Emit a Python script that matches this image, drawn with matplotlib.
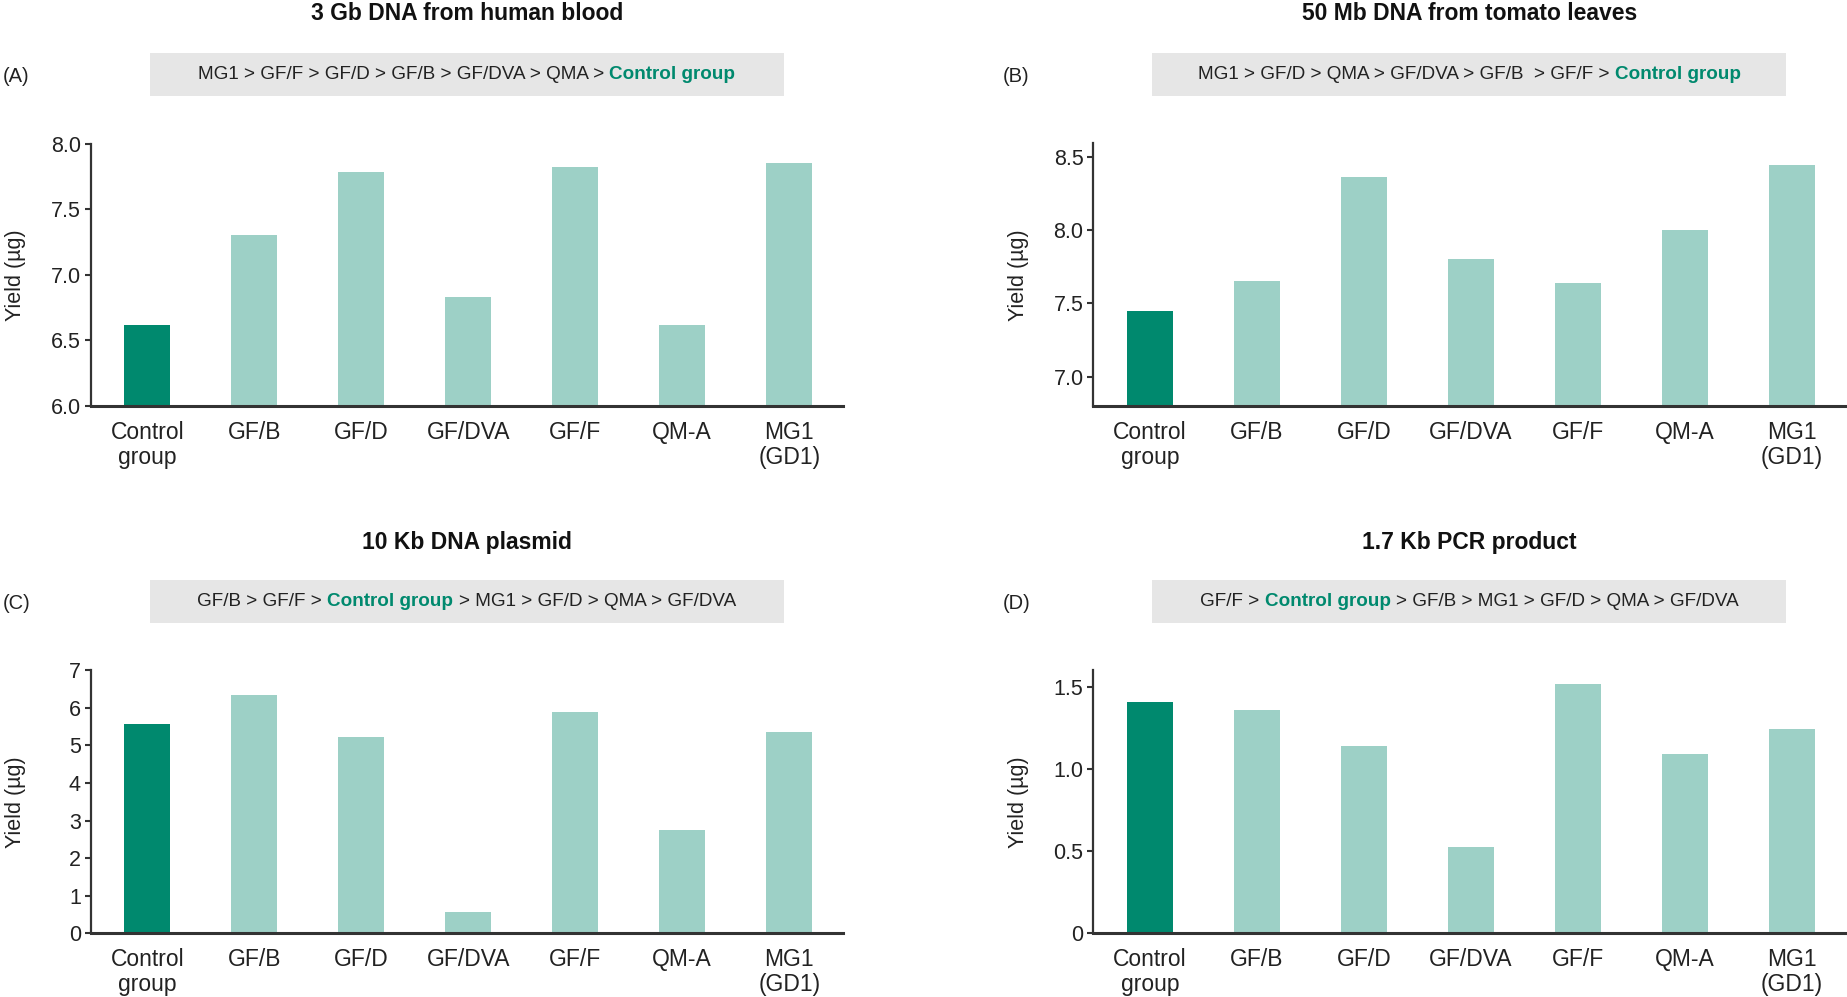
import numpy as np
import matplotlib.pyplot as plt
from matplotlib.patches import Rectangle

plt.rcParams['font.family'] = ['Liberation Sans', 'DejaVu Sans']

# kategorie
kategorie = ['Control\ngroup', 'GF/B', 'GF/D', 'GF/DVA', 'GF/F', 'QM-A', 'MG1\n(GD1)']

# wydajnosc (ug)
blood = [6.62, 7.30, 7.78, 6.83, 7.82, 6.62, 7.85]
tomato = [7.45, 7.65, 8.36, 7.80, 7.64, 8.00, 8.44]
plasmid = [5.56, 6.35, 5.22, 0.56, 5.90, 2.75, 5.35]
pcr = [1.405, 1.356, 1.142, 0.526, 1.516, 1.093, 1.245]

tytuly = ['3 Gb DNA from human blood', '50 Mb DNA from tomato leaves',
          '10 Kb DNA plasmid', '1.7 Kb PCR product']
litery = ['(A)', '(B)', '(C)', '(D)']

# ranking w szarej ramce: (tekst, czy wyroznic)
ranking_a = [('MG1 > GF/F > GF/D > GF/B > GF/DVA > QMA > ', False), ('Control group', True)]
ranking_b = [('MG1 > GF/D > QMA > GF/DVA > GF/B  > GF/F > ', False), ('Control group', True)]
ranking_c = [('GF/B > GF/F > ', False), ('Control group', True), (' > MG1 > GF/D > QMA > GF/DVA', False)]
ranking_d = [('GF/F > ', False), ('Control group', True), (' > GF/B > MG1 > GF/D > QMA > GF/DVA', False)]

ylimy = [(6.0, 8.0), (6.8, 8.59), (0, 7.0), (0, 1.6)]
yticki = [[6.0, 6.5, 7.0, 7.5, 8.0], [7.0, 7.5, 8.0, 8.5],
          [0, 1, 2, 3, 4, 5, 6, 7], [0, 0.5, 1.0, 1.5]]
yetykiety = [['6.0', '6.5', '7.0', '7.5', '8.0'], ['7.0', '7.5', '8.0', '8.5'],
             ['0', '1', '2', '3', '4', '5', '6', '7'], ['0', '0.5', '1.0', '1.5']]

CIEMNY = '#00896e'
JASNY = '#9dd0c6'
SZARY = '#e6e6e6'
TEKST = '#222222'

W, H = 1847, 997
fig = plt.figure(figsize=(W / 100, H / 100), dpi=100)

# pozycje osi w pikselach: lewo, dol (od gory), szerokosc, wysokosc
pozycje = [(90.7, 406, 752, 262.5), (1093.3, 406, 752, 262.5),
           (90.7, 933.3, 752, 263), (1093.3, 933.3, 752, 263)]
tytul_y = [14, 14, 542, 542]
ramka_y = [(53, 96), (53, 96), (580, 623), (580, 623)]
litera_x = [3, 1003]

dane = [blood, tomato, plasmid, pcr]
rankingi = [ranking_a, ranking_b, ranking_c, ranking_d]

fig.canvas.draw()
renderer = fig.canvas.get_renderer()


def szerokosc(s, **kw):
    t = fig.text(0, 0, s, **kw)
    w = t.get_window_extent(renderer).width
    t.remove()
    return w


def rysuj_ranking(xc, y, czesci, size=13.6):
    # tekst wielokolorowy, wysrodkowany na xc (piksele)
    kw_n = dict(fontsize=size, color=TEKST)
    kw_b = dict(fontsize=size, color=CIEMNY, fontweight='bold')
    spacja = szerokosc('x x', **kw_n) - szerokosc('xx', **kw_n)
    elementy = []
    total = 0
    for s, wyr in czesci:
        kw = kw_b if wyr else kw_n
        lead = len(s) - len(s.lstrip(' '))
        trail = len(s) - len(s.rstrip(' '))
        w = szerokosc(s.strip(), **kw)
        elementy.append((s.strip(), kw, lead * spacja, w, trail * spacja))
        total += lead * spacja + w + trail * spacja
    x = xc - total / 2
    for st, kw, lead_w, w, trail_w in elementy:
        x += lead_w
        fig.text(x / W, 1 - y / H, st, ha='left', va='center', **kw)
        x += w + trail_w


for i in range(4):
    lx, by, aw, ah = pozycje[i]
    ax = fig.add_axes([lx / W, 1 - by / H, aw / W, ah / H])
    xs = np.arange(len(kategorie))
    kolory = [CIEMNY] + [JASNY] * (len(kategorie) - 1)
    ax.bar(xs, dane[i], width=0.43, color=kolory)
    ax.set_xlim(-0.53, 6.5)
    ax.set_ylim(*ylimy[i])
    ax.set_yticks(yticki[i])
    ax.set_yticklabels(yetykiety[i], fontsize=15.5, color=TEKST)
    ax.set_xticks(xs)
    ax.set_xticklabels(kategorie, fontsize=16.5, color=TEKST, linespacing=1.12)
    ax.tick_params(axis='x', length=0, pad=10.5)
    ax.tick_params(axis='y', length=4, width=1.5, color='#333333', pad=3)
    for s in ['top', 'right']:
        ax.spines[s].set_visible(False)
    ax.spines['left'].set_linewidth(1.6)
    ax.spines['bottom'].set_linewidth(2.2)
    ax.spines['left'].set_color('#333333')
    ax.spines['bottom'].set_color('#333333')
    ax.set_ylabel('Yield (µg)', fontsize=15.5, color=TEKST)
    ax.yaxis.set_label_coords(-0.086, 0.5)

    xc = lx + aw / 2
    fig.text(xc / W, 1 - tytul_y[i] / H, tytuly[i], ha='center', va='center',
             fontsize=16.5, fontweight='bold', color='#111111')
    y0, y1 = ramka_y[i]
    fig.add_artist(Rectangle(((xc - 317) / W, 1 - y1 / H), 634 / W, (y1 - y0) / H,
                             transform=fig.transFigure, facecolor=SZARY, edgecolor='none'))
    rysuj_ranking(xc, (y0 + y1) / 2, rankingi[i])
    fig.text(litera_x[i % 2] / W, 1 - (y0 + y1 + 4) / 2 / H, litery[i], ha='left', va='center',
             fontsize=14.5, color=TEKST)

fig.savefig('out.png', dpi=100)
